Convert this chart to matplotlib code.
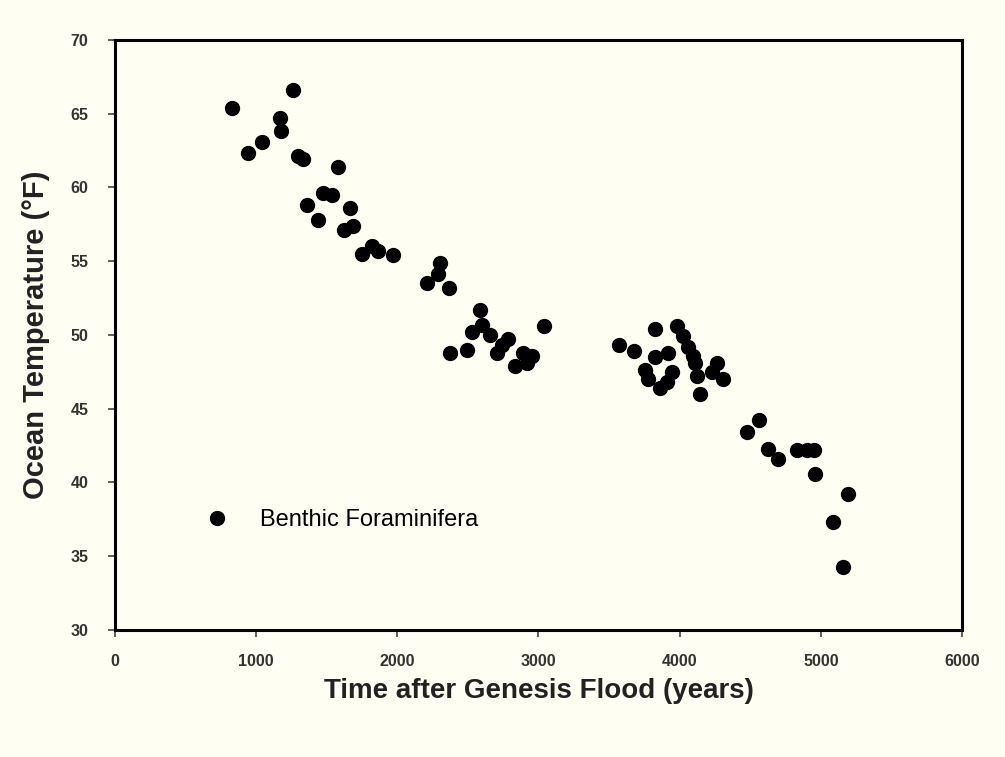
import matplotlib
matplotlib.use('Agg')
import matplotlib.pyplot as plt

# benthic foraminifera, years after flood vs temperature (F)
years = [827, 1263, 1169, 1174, 1043, 944, 1298, 1330, 1582, 1471,
         1534, 1358, 1665, 1440, 1624, 1683, 1747, 1818, 1865, 1967,
         2302, 2208, 2288, 2368, 2586, 2526, 2597, 2656, 2373, 2491,
         2703, 2741, 2786, 2892, 2951, 2834, 2917, 3039,
         3572, 3676, 3825, 3978, 4025, 4061, 4096, 4108, 4262, 4226,
         4309, 4144, 4120, 3920, 3825, 3754, 3778, 3861, 3908, 3943,
         4564, 4474, 4628, 4699, 4829, 4899, 4954, 4958, 5194, 5088, 5159]
temps = [65.4, 66.6, 64.7, 63.8, 63.1, 62.3, 62.1, 61.9, 61.4, 59.6,
         59.5, 58.8, 58.6, 57.8, 57.1, 57.4, 55.5, 56.0, 55.7, 55.4,
         54.9, 53.5, 54.1, 53.2, 51.7, 50.2, 50.7, 50.0, 48.8, 49.0,
         48.8, 49.3, 49.7, 48.8, 48.6, 47.9, 48.1, 50.6,
         49.3, 48.9, 50.4, 50.6, 49.9, 49.2, 48.6, 48.1, 48.1, 47.5,
         47.0, 46.0, 47.2, 48.8, 48.5, 47.6, 47.0, 46.4, 46.8, 47.5,
         44.2, 43.4, 42.3, 41.6, 42.2, 42.2, 42.2, 40.6, 39.2, 37.3, 34.3]

bg = '#fffef2'
fig = plt.figure(figsize=(10.05, 7.57), dpi=100, facecolor=bg)
ax = fig.add_axes([0.1144, 0.1678, 0.8428, 0.7795], facecolor=bg)

ax.plot(years, temps, 'o', color='black', markersize=10,
        label='Benthic Foraminifera')

ax.set_xlim(0, 6000)
ax.set_ylim(30, 70)
ax.set_xticks(range(0, 6001, 1000))
ax.set_yticks(range(30, 71, 5))

for s in ax.spines.values():
    s.set_linewidth(2.2)
ax.tick_params(direction='out', length=5, width=1.2, colors='#444444',
               labelcolor='#333333', labelsize=11.5)
ax.tick_params(axis='x', pad=12)
ax.tick_params(axis='y', pad=14)
for lab in ax.get_xticklabels() + ax.get_yticklabels():
    lab.set_family('Liberation Sans')
    lab.set_fontweight('bold')

ax.set_xlabel('Time after Genesis Flood (years)', fontsize=20,
              fontweight='bold', family='Liberation Sans', color='#222222',
              labelpad=7)
ax.set_ylabel('Ocean Temperature (°F)', fontsize=21,
              fontweight='bold', family='Liberation Sans', color='#222222',
              labelpad=15)

leg = ax.legend(loc='lower left', bbox_to_anchor=(0.067, 0.131), frameon=False,
                handletextpad=0.85, prop={'family': 'Liberation Sans', 'size': 17})

fig.savefig('out.png', dpi=100, facecolor=bg)
